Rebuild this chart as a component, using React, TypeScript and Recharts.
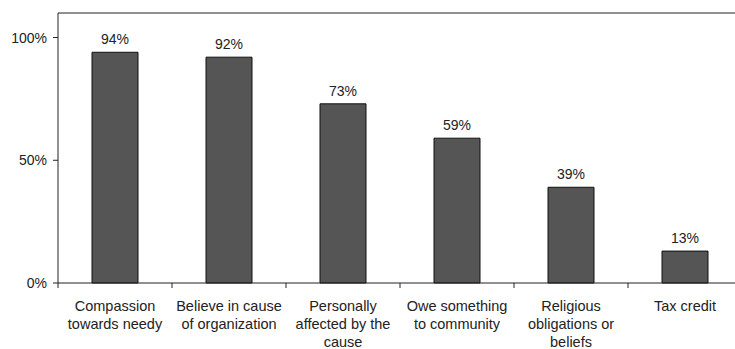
import { BarChart, Bar, XAxis, YAxis, LabelList, ReferenceLine } from 'recharts';

// reasons for giving, share of respondents (%)
const reasons = [
  'Compassion\ntowards needy',
  'Believe in cause\nof organization',
  'Personally\naffected by the\ncause',
  'Owe something\nto community',
  'Religious\nobligations or\nbeliefs',
  'Tax credit',
];
const shares = [94, 92, 73, 59, 39, 13];
const yTicks = [0, 50, 100];

const data = reasons.map((reason, i) => ({ reason, share: shares[i] }));

const FONT = '"Liberation Sans", Arial, sans-serif';
const CHART_W = 750;
const PLOT_LEFT = 58;
const PLOT_RIGHT = 8;
const BAND = (CHART_W - PLOT_LEFT - PLOT_RIGHT) / reasons.length;
const TICK_SHIFT = 8; // recharts hands the tick a y below the axis line

// category label split over lines, with the tick mark on the band boundary
function ReasonTick(props: any) {
  const { x, y, payload, index } = props;
  const axisY = y - TICK_SHIFT;
  const lines = String(payload.value).split('\n');
  return (
    <g>
      <line x1={x - BAND / 2} x2={x - BAND / 2} y1={axisY} y2={axisY + 5} stroke="#222" />
      {index === reasons.length - 1 && (
        <line x1={x + BAND / 2} x2={x + BAND / 2} y1={axisY} y2={axisY + 5} stroke="#222" />
      )}
      <text x={x} y={axisY + 28} textAnchor="middle" fill="#222" fontSize={14.5} fontFamily={FONT}>
        {lines.map((l, i) => (
          <tspan key={i} x={x} dy={i === 0 ? 0 : 18}>
            {l}
          </tspan>
        ))}
      </text>
    </g>
  );
}

export default function App() {
  return (
    <div style={{ position: 'absolute', left: 0, top: 0, width: 735, height: 349, overflow: 'hidden', background: '#fff' }}>
      <BarChart width={CHART_W} height={349} data={data} margin={{ top: 13, right: PLOT_RIGHT, left: 0, bottom: 0 }}>
        <XAxis
          dataKey="reason"
          interval={0}
          height={66}
          stroke="#222"
          tickLine={false}
          tick={<ReasonTick />}
        />
        <YAxis
          width={PLOT_LEFT}
          domain={[0, 110]}
          ticks={yTicks}
          tickFormatter={(v) => `${v}%`}
          stroke="#222"
          tickSize={5}
          tickMargin={6}
          tick={{ fill: '#222', fontSize: 14, fontFamily: FONT }}
        />
        <ReferenceLine y={110} stroke="#222" />
        <Bar dataKey="share" fill="#555555" stroke="#111" strokeWidth={1} barSize={46} isAnimationActive={false}>
          <LabelList
            dataKey="share"
            position="top"
            offset={8}
            formatter={(v: any) => `${v}%`}
            fill="#222"
            fontSize={14}
            fontFamily={FONT}
          />
        </Bar>
      </BarChart>
    </div>
  );
}
